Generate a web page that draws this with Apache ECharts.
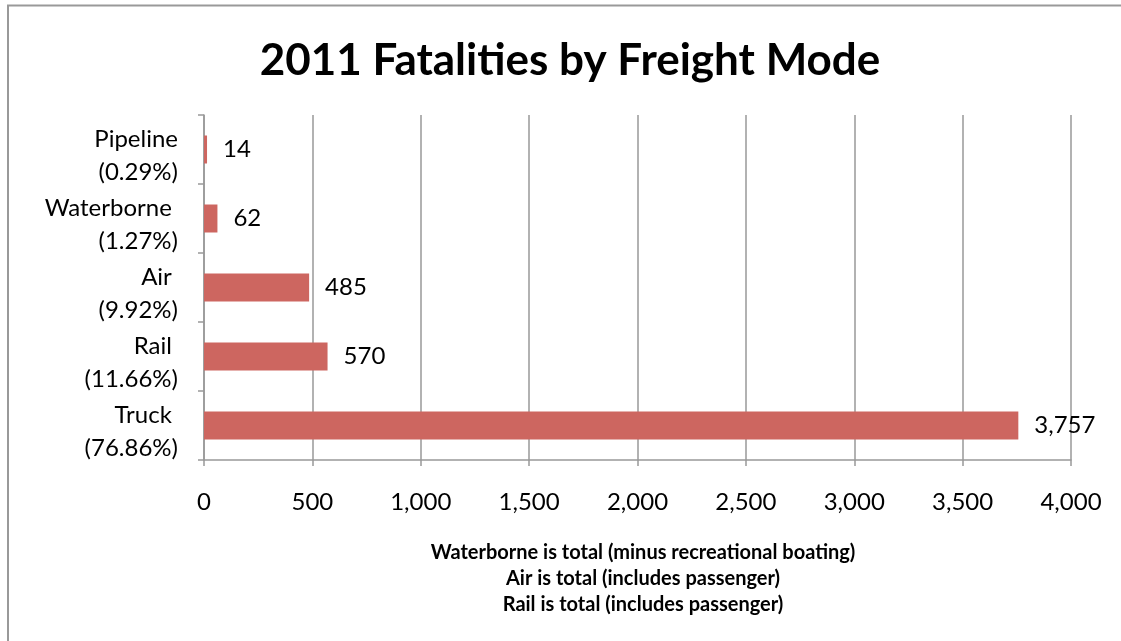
<!DOCTYPE html>
<html><head><meta charset="utf-8">
<script src="https://cdn.jsdelivr.net/npm/echarts@6/dist/echarts.min.js"></script>
<style>html,body{margin:0;padding:0;background:#fff}#c{width:1121px;height:641px}</style>
</head><body><div id="c"></div>
<script>
const categories = ['Truck \n(76.86%)', 'Rail \n(11.66%)', 'Air \n(9.92%)', 'Waterborne \n(1.27%)', 'Pipeline\n(0.29%)'];
const values = [3757, 570, 485, 62, 14];
const xTicks = { min: 0, max: 4000, interval: 500 };
const notes = ['Waterborne is total (minus recreational boating)', 'Air is total (includes passenger)', 'Rail is total (includes passenger)'];

const chart = echarts.init(document.getElementById('c'));
const F = 'Lato';
chart.setOption({
  animation: false,
  textStyle: { fontFamily: F },
  title: [
    { text: '2011 Fatalities by Freight Mode', left: 565, top: 34, textAlign: 'center',
      textStyle: { fontFamily: F, fontSize: 44, fontWeight: 'bold', color: '#000' } },
    { text: notes.join('\n'), left: 638, top: 535, textAlign: 'center',
      textStyle: { fontFamily: F, fontSize: 20, fontWeight: 'bold', color: '#000', lineHeight: 26 } }
  ],
  graphic: [{ type: 'polyline', shape: { points: [[8, 645], [8, 5.5], [1125, 5.5]] },
    style: { stroke: '#999', lineWidth: 2, fill: null } }],
  grid: { left: 204, right: 50, top: 115, bottom: 181 },
  xAxis: {
    type: 'value', min: xTicks.min, max: xTicks.max, interval: xTicks.interval,
    axisLine: { show: true, lineStyle: { color: '#999', width: 1.5 } },
    axisTick: { show: true, length: 6, lineStyle: { color: '#999', width: 1.5 } },
    splitLine: { show: true, lineStyle: { color: '#999', width: 1.5 } },
    axisLabel: { fontFamily: F, fontSize: 24, color: '#000', margin: 30,
      formatter: v => v.toLocaleString('en-US') }
  },
  yAxis: {
    type: 'category', data: categories,
    axisLine: { show: true, lineStyle: { color: '#999', width: 1.5 } },
    axisTick: { show: true, length: 6, inside: false, lineStyle: { color: '#999', width: 1.5 } },
    axisLabel: { interval: 0, showMinLabel: true, showMaxLabel: true, hideOverlap: false,
      fontFamily: F, fontSize: 24, color: '#000', margin: 26, align: 'right',
      formatter: v => '{s| }\n' + v.split('\n').map(t => '{a|' + t + '}').join('\n'),
      rich: {
        s: { fontSize: 10, lineHeight: 13 },
        a: { fontFamily: F, fontSize: 24, color: '#000', lineHeight: 33, align: 'right' }
      } }
  },
  series: [{
    type: 'bar', data: values, barWidth: 28,
    itemStyle: { color: '#CD6660' },
    label: { show: true, position: 'right', distance: 16, fontFamily: F, fontSize: 24, color: '#000',
      formatter: p => p.value.toLocaleString('en-US') }
  }]
});
</script></body></html>
